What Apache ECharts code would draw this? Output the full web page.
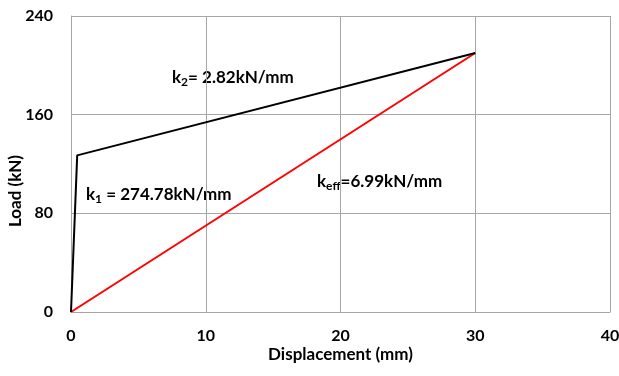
<!DOCTYPE html>
<html>
<head>
<meta charset="utf-8">
<script src="https://cdn.jsdelivr.net/npm/echarts@6/dist/echarts.min.js"></script>
<style>
  html, body { margin: 0; padding: 0; background: #fff; }
  #chart { width: 619px; height: 376px; }
</style>
</head>
<body>
<div id="chart"></div>
<script>
// bilinear curve and effective stiffness line (displacement mm, load kN)
const bilinear = [[0, 0], [0.46, 127], [30, 210]]
const effective = [[0, 0], [30, 210]]
const xTicks = [0, 10, 20, 30, 40]
const yTicks = [0, 80, 160, 240]

const font = 'Lato, "Open Sans", sans-serif'
const rich = {
    b: { fontFamily: font, fontWeight: 'bold', fontSize: 17, color: '#000' },
    s: { fontFamily: font, fontWeight: 'bold', fontSize: 12, color: '#000', verticalAlign: 'bottom', padding: [9, 0, 0, 0] }
}

const chart = echarts.init(document.getElementById('chart'))
chart.setOption({
    animation: false,
    grid: { left: 71, right: 9, top: 16, bottom: 64, outerBoundsMode: 'none' },
    xAxis: {
        type: 'value',
        min: xTicks[0],
        max: xTicks[xTicks.length - 1],
        interval: 10,
        name: 'Displacement (mm)',
        nameLocation: 'middle',
        nameGap: 34,
        nameMoveOverlap: false,
        nameTextStyle: { fontFamily: font, fontWeight: 'bold', fontSize: 17, color: '#000' },
        axisLine: { show: true, lineStyle: { color: '#a6a6a6', width: 1 } },
        axisTick: { show: false },
        splitLine: { show: true, lineStyle: { color: '#a6a6a6', width: 1 } },
        axisLabel: { fontFamily: font, fontWeight: 'bold', fontSize: 16, color: '#000', margin: 16, hideOverlap: false }
    },
    yAxis: {
        type: 'value',
        min: yTicks[0],
        max: yTicks[yTicks.length - 1],
        interval: 80,
        name: 'Load (kN)',
        nameLocation: 'middle',
        nameGap: 47,
        nameMoveOverlap: false,
        nameTextStyle: { fontFamily: font, fontWeight: 'bold', fontSize: 17, color: '#000', padding: [0, 54, 0, 0] },
        axisLine: { show: true, lineStyle: { color: '#a6a6a6', width: 1 } },
        axisTick: { show: false },
        splitLine: { show: true, lineStyle: { color: '#a6a6a6', width: 1 } },
        axisLabel: { fontFamily: font, fontWeight: 'bold', fontSize: 16, color: '#000', margin: 18 }
    },
    series: [
        {
            name: 'effective',
            type: 'line',
            data: effective,
            symbol: 'none',
            lineStyle: { color: '#ff0000', width: 2 }
        },
        {
            name: 'bilinear',
            type: 'line',
            data: bilinear,
            symbol: 'none',
            lineStyle: { color: '#000000', width: 2 }
        }
    ],
    graphic: [
        {
            type: 'text', left: 172, top: 69,
            style: { text: '{b|k}{s|2}{b|= 2.82kN/mm}', rich: rich }
        },
        {
            type: 'text', left: 86, top: 186,
            style: { text: '{b|k}{s|1}{b| = 274.78kN/mm}', rich: rich }
        },
        {
            type: 'text', left: 317, top: 173,
            style: { text: '{b|k}{s|eff}{b|=6.99kN/mm}', rich: rich }
        }
    ]
})
</script>
</body>
</html>
